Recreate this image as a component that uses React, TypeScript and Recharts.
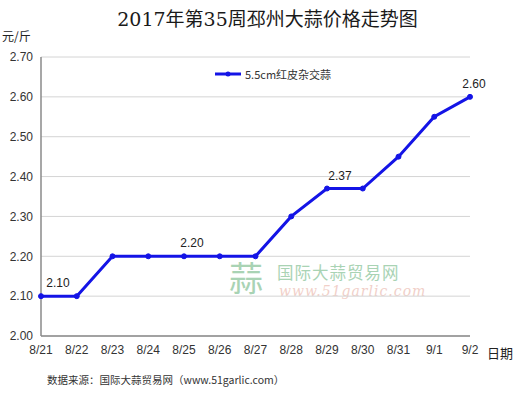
import React from "react";
import { LineChart, Line, XAxis, YAxis, CartesianGrid } from "recharts";

const categories = ["8/21", "8/22", "8/23", "8/24", "8/25", "8/26", "8/27", "8/28", "8/29", "8/30", "8/31", "9/1", "9/2"];
const prices = [2.1, 2.1, 2.2, 2.2, 2.2, 2.2, 2.2, 2.3, 2.37, 2.37, 2.45, 2.55, 2.6];
const yTicks = [2.0, 2.1, 2.2, 2.3, 2.4, 2.5, 2.6, 2.7];
const labeledIndices = [0, 4, 8, 12];
const seriesName = "5.5cm红皮杂交蒜";

const data = categories.map((c, i) => ({ date: c, price: prices[i] }));

const labelDx: Record<number, number> = { 0: 17, 4: 8, 8: 13, 12: 4 };

const LINE_COLOR = "#1414e6";
const SANS = "'Liberation Sans', Arial, 'Noto Sans CJK SC', sans-serif";
const CJK = "'Noto Sans CJK SC', sans-serif";

const renderLabel = (props: any) => {
  const { x, y, index, value } = props;
  if (!labeledIndices.includes(index)) return null;
  return (
    <text x={x + (labelDx[index] ?? 0)} y={y - 9} textAnchor="middle" fontSize={12} fill="#222" fontFamily={SANS}>
      {Number(value).toFixed(2)}
    </text>
  );
};

export default function App() {
  return (
    <div style={{ position: "absolute", left: 0, top: 0, width: 525, height: 400, background: "#fff", overflow: "hidden" }}>
      <div style={{ position: "absolute", left: 10, top: 4, width: 515, textAlign: "center", fontFamily: "'DejaVu Serif', 'Noto Sans CJK SC', serif", fontSize: 19, color: "#1a1a1a" }}>
        2017年第35周邳州大蒜价格走势图
      </div>
      <div style={{ position: "absolute", left: 2, top: 27, fontFamily: CJK, fontSize: 12, color: "#222" }}>元/斤</div>
      <div style={{ position: "absolute", left: 487, top: 343, fontFamily: CJK, fontSize: 13, color: "#222" }}>日期</div>
      <div style={{ position: "absolute", left: 47, top: 372, fontFamily: CJK, fontSize: 10.5, color: "#333" }}>
        数据来源：国际大蒜贸易网（www.51garlic.com）
      </div>
      {/* watermark */}
      <div style={{ position: "absolute", left: 229, top: 259, fontFamily: CJK, fontSize: 34, color: "#a9d3b4", lineHeight: "36px" }}>蒜</div>
      <div style={{ position: "absolute", left: 277, top: 263, fontFamily: CJK, fontSize: 16.5, color: "#a9d3b4", letterSpacing: 1, lineHeight: "18px" }}>国际大蒜贸易网</div>
      <div style={{ position: "absolute", left: 279, top: 283, fontFamily: "'DejaVu Serif', serif", fontStyle: "italic", fontSize: 14, color: "#f1cfc8", letterSpacing: 1, lineHeight: "16px" }}>www.51garlic.com</div>
      {/* legend */}
      <div style={{ position: "absolute", left: 214, top: 67, display: "flex", alignItems: "center", fontFamily: CJK, fontSize: 11, color: "#333", lineHeight: "14px" }}>
        <svg width={28} height={8}>
          <line x1={1} y1={4} x2={27} y2={4} stroke={LINE_COLOR} strokeWidth={3} />
          <circle cx={14} cy={4} r={2.5} fill={LINE_COLOR} />
        </svg>
        <span style={{ marginLeft: 3 }}>{seriesName}</span>
      </div>
      <div style={{ position: "absolute", left: 0, top: 0 }}>
        <LineChart width={525} height={400} data={data} margin={{ top: 57, right: 55, bottom: 34, left: 3 }}>
          <CartesianGrid vertical={false} horizontal={true} stroke="#d4d4d4" />
          <XAxis
            dataKey="date"
            scale="point"
            height={30}
            padding={{ left: 0, right: 0 }}
            axisLine={{ stroke: "#8a8a8a", strokeWidth: 1.5 }}
            tickLine={false}
            tickSize={6}
            tickMargin={3}
            tick={{ fontSize: 12, fill: "#333", fontFamily: SANS }}
            interval={0}
          />
          <YAxis
            width={38}
            domain={[2.0, 2.7]}
            ticks={yTicks}
            tickFormatter={(v: number) => v.toFixed(2)}
            axisLine={{ stroke: "#8a8a8a", strokeWidth: 1.5 }}
            tickLine={false}
            tickSize={6}
            tickMargin={2}
            tick={{ fontSize: 12, fill: "#333", fontFamily: SANS }}
            interval={0}
          />
          <Line
            type="linear"
            dataKey="price"
            name={seriesName}
            stroke={LINE_COLOR}
            strokeWidth={3}
            dot={{ r: 2.5, fill: LINE_COLOR, stroke: LINE_COLOR, strokeWidth: 1 }}
            activeDot={false}
            isAnimationActive={false}
            label={renderLabel}
          />
        </LineChart>
      </div>
    </div>
  );
}
